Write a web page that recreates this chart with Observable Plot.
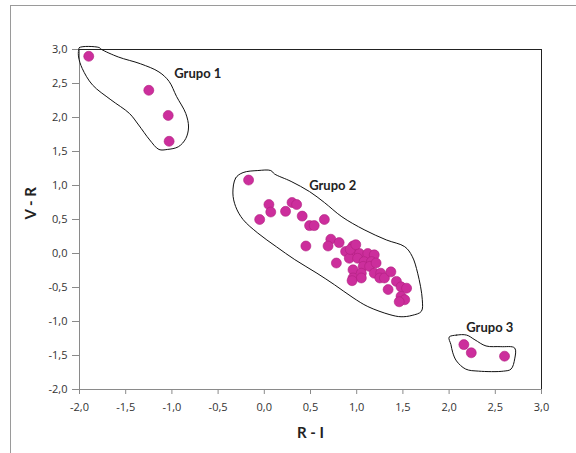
<!DOCTYPE html>
<html>
<head>
<meta charset="utf-8">
<script src="https://cdn.jsdelivr.net/npm/d3@7"></script>
<script src="https://cdn.jsdelivr.net/npm/@observablehq/plot@0.6"></script>
<style>
  html, body { margin: 0; padding: 0; background: #fff; }
  #wrap { position: relative; width: 576px; height: 453px; overflow: hidden; }
  #border { position: absolute; left: 10px; top: 5px; width: 600px; height: 500px;
            border-left: 1px solid #9a9a9a; border-top: 1px solid #9a9a9a; pointer-events: none; }
  #chart { position: absolute; left: 0; top: 0; }
</style>
</head>
<body>
<div id="wrap"><div id="border"></div><div id="chart"></div></div>
<script>
// ---- data (R - I, V - R) ----
const grupo1RI = [-1.90, -1.25, -1.04, -1.03];
const grupo1VR = [ 2.90,  2.40,  2.03,  1.65];

const grupo2RI = [-0.17, -0.05, 0.05, 0.07, 0.23, 0.30, 0.35, 0.41, 0.49, 0.54, 0.65, 0.45,
  0.72, 0.81, 0.69, 0.96, 0.88, 0.98, 1.03, 1.12, 1.19, 0.92, 1.01, 1.08, 1.16, 1.07, 1.14,
  1.21, 0.96, 1.05, 1.19, 1.26, 1.25, 1.30, 1.37, 1.43, 1.48, 1.34, 1.54, 1.48, 1.52, 1.46,
  0.78, 0.96, 1.05, 0.95, 0.93, 0.99];
const grupo2VR = [ 1.08,  0.50, 0.72, 0.61, 0.62, 0.75, 0.72, 0.55, 0.41, 0.41, 0.50, 0.11,
  0.21, 0.16, 0.11, 0.11, 0.03, 0.04, 0.00, 0.00, -0.02, -0.07, -0.07, -0.12, -0.12, -0.19, -0.19,
  -0.14, -0.24, -0.29, -0.29, -0.29, -0.36, -0.36, -0.27, -0.41, -0.49, -0.53, -0.51, -0.63, -0.68, -0.71,
  -0.14, -0.36, -0.36, -0.40, 0.06, 0.13];

const grupo3RI = [2.16, 2.24, 2.60];
const grupo3VR = [-1.34, -1.46, -1.51];

// hand-drawn outlines (data coordinates)
const contorno1RI = [-2.01, -2.00, -1.79, -1.76, -1.58, -1.34, -1.14, -1.03, -0.95, -0.85, -0.82, -0.85, -0.93, -1.05, -1.14, -1.24, -1.36, -1.46, -1.66, -1.86, -1.97, -2.01];
const contorno1VR = [ 2.99,  3.03,  3.03,  3.00,  2.89,  2.79,  2.67,  2.53,  2.31,  2.06,  1.86,  1.69,  1.57,  1.53,  1.53,  1.67,  1.89,  2.06,  2.26,  2.48,  2.72,  2.89];

const contorno2RI = [-0.34, -0.31, -0.23, -0.07, 0.07, 0.11, 0.29, 0.49, 0.65, 0.84, 1.08, 1.32, 1.52, 1.60, 1.66, 1.71, 1.70, 1.60, 1.48, 1.36, 1.12, 0.96, 0.76, 0.57, 0.33, 0.13, -0.07, -0.23, -0.31];
const contorno2VR = [ 0.89,  1.11,  1.19,  1.22, 1.22, 1.17, 1.06, 0.91, 0.75, 0.54, 0.35, 0.20, 0.10, -0.04, -0.29, -0.68, -0.85, -0.91, -0.93, -0.90, -0.78, -0.65, -0.46, -0.29, -0.09, 0.10, 0.30, 0.50, 0.69];

const contorno3RI = [2.00, 2.08, 2.19, 2.28, 2.40, 2.56, 2.71, 2.71, 2.67, 2.59, 2.32, 2.18, 2.08, 2.04, 2.02];
const contorno3VR = [-1.23, -1.20, -1.20, -1.27, -1.36, -1.37, -1.39, -1.55, -1.70, -1.73, -1.73, -1.70, -1.58, -1.46, -1.34];

const etiquetas = ["Grupo 1", "Grupo 2", "Grupo 3"];
const etiquetaRI = [-0.72, 0.74, 2.44];
const etiquetaVR = [2.64, 1.00, -1.10];

const ticks = [-2, -1.5, -1, -0.5, 0, 0.5, 1, 1.5, 2, 2.5, 3];

// ---- build tables ----
const puntos = [
  ...grupo1RI.map((x, i) => ({x, y: grupo1VR[i]})),
  ...grupo2RI.map((x, i) => ({x, y: grupo2VR[i]})),
  ...grupo3RI.map((x, i) => ({x, y: grupo3VR[i]}))
];
const contornos = [
  ...contorno1RI.map((x, i) => ({x, y: contorno1VR[i], g: 1})),
  ...contorno2RI.map((x, i) => ({x, y: contorno2VR[i], g: 2})),
  ...contorno3RI.map((x, i) => ({x, y: contorno3VR[i], g: 3}))
];
const labels = etiquetas.map((t, i) => ({t, x: etiquetaRI[i], y: etiquetaVR[i]}));
const fmt = d => d3.format(".1f")(d).replace(".", ",").replace("\u2212", "-");

const chart = Plot.plot({
  width: 576,
  height: 453,
  marginLeft: 79,
  marginRight: 35,
  marginTop: 49,
  marginBottom: 64,
  style: {fontFamily: "'Open Sans', sans-serif", fontSize: "11px", color: "#333", background: "transparent"},
  x: {domain: [-2, 3], label: null},
  y: {domain: [-2, 3], label: null},
  marks: [
    Plot.ruleX([-2], {stroke: "#8a8a8a"}),
    Plot.ruleY([-2], {stroke: "#8a8a8a"}),
    Plot.ruleX([3], {stroke: "#222"}),
    Plot.ruleY([3], {stroke: "#222"}),
    Plot.axisX({ticks, tickFormat: fmt, tickSize: 5, tickPadding: 9, stroke: "#8a8a8a", fill: "#333", label: null}),
    Plot.axisY({ticks, tickFormat: fmt, tickSize: 7, tickPadding: 5, stroke: "#8a8a8a", fill: "#333", label: null}),
    Plot.line(contornos, {x: "x", y: "y", z: "g", curve: "catmull-rom-closed", stroke: "#111", strokeWidth: 1}),
    Plot.dot(puntos, {x: "x", y: "y", r: 5, fill: "#cc2e9c", stroke: "#b0207f", strokeWidth: 0.6}),
    Plot.text(labels, {x: "x", y: "y", text: "t", fontSize: 13, fontWeight: "bold", fill: "#222",
      fontFamily: "Lato, 'Open Sans', sans-serif"}),
    Plot.text(["R - I"], {frameAnchor: "bottom", dy: 48, fontSize: 15, fontWeight: "bold", fill: "#222",
      fontFamily: "Lato, 'Open Sans', sans-serif"}),
    Plot.text(["V - R"], {frameAnchor: "left", dx: -48, rotate: -90, fontSize: 15, fontWeight: "bold", fill: "#222",
      fontFamily: "Lato, 'Open Sans', sans-serif"})
  ]
});
document.getElementById("chart").appendChild(chart);
</script>
</body>
</html>
